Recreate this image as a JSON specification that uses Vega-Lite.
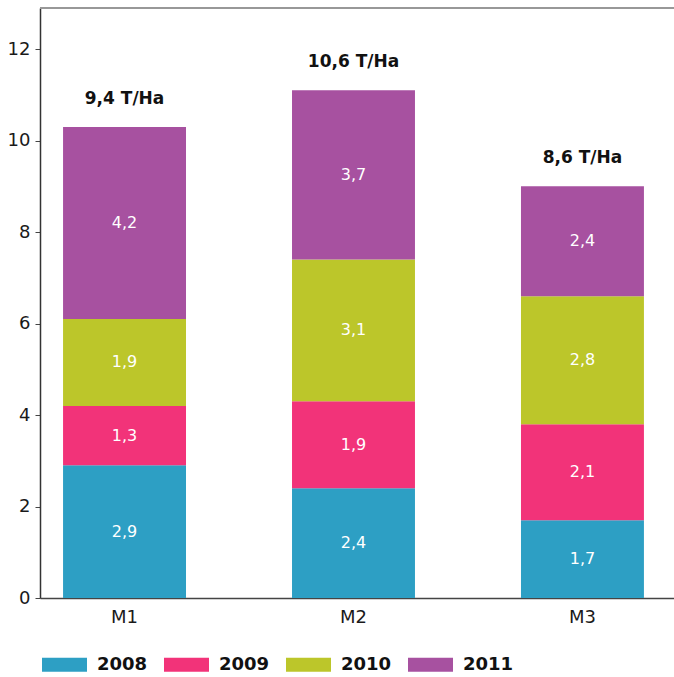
{
  "$schema": "https://vega.github.io/schema/vega-lite/v6.json",
  "width": 634,
  "height": 590,
  "autosize": {"type": "none"},
  "padding": {"left": 40, "top": 8, "right": 0, "bottom": 79},
  "background": "white",
  "config": {
    "view": {"stroke": null},
    "font": "DejaVu Sans",
    "locale": {"number": {"decimal": ",", "thousands": ".", "grouping": [3], "currency": ["", " €"]}}
  },
  "datasets": {
    "mesures": [
      {"parcelle": "M1", "annee": "2008", "valeur": 2.9},
      {"parcelle": "M1", "annee": "2009", "valeur": 1.3},
      {"parcelle": "M1", "annee": "2010", "valeur": 1.9},
      {"parcelle": "M1", "annee": "2011", "valeur": 4.2},
      {"parcelle": "M2", "annee": "2008", "valeur": 2.4},
      {"parcelle": "M2", "annee": "2009", "valeur": 1.9},
      {"parcelle": "M2", "annee": "2010", "valeur": 3.1},
      {"parcelle": "M2", "annee": "2011", "valeur": 3.7},
      {"parcelle": "M3", "annee": "2008", "valeur": 1.7},
      {"parcelle": "M3", "annee": "2009", "valeur": 2.1},
      {"parcelle": "M3", "annee": "2010", "valeur": 2.8},
      {"parcelle": "M3", "annee": "2011", "valeur": 2.4}
    ],
    "rendements": [
      {"parcelle": "M1", "etiquette": "9,4 T/Ha"},
      {"parcelle": "M2", "etiquette": "10,6 T/Ha"},
      {"parcelle": "M3", "etiquette": "8,6 T/Ha"}
    ]
  },
  "data": {"name": "mesures"},
  "layer": [
    {
      "mark": {"type": "bar"},
      "encoding": {
        "x": {
          "field": "parcelle",
          "type": "nominal",
          "scale": {"paddingInner": 0.463, "paddingOuter": 0.116, "align": 0.434},
          "axis": {
            "title": null,
            "labelAngle": 0,
            "labelFontSize": 18,
            "labelColor": "#1a1a1a",
            "labelPadding": 10,
            "ticks": false,
            "domainColor": "#444",
            "domainWidth": 1.5
          }
        },
        "y": {
          "field": "valeur",
          "type": "quantitative",
          "stack": "zero",
          "scale": {"domain": [0, 12.9], "nice": false, "zero": true},
          "axis": {
            "title": null,
            "values": [0, 2, 4, 6, 8, 10, 12],
            "format": "d",
            "grid": false,
            "labelFontSize": 18,
            "labelColor": "#1a1a1a",
            "labelPadding": 5,
            "tickSize": 5,
            "tickColor": "#444",
            "domainColor": "#333",
            "domainWidth": 1.5
          }
        },
        "color": {
          "field": "annee",
          "type": "nominal",
          "scale": {
            "domain": ["2008", "2009", "2010", "2011"],
            "range": ["#2d9fc4", "#f23379", "#bcc62a", "#a751a0"]
          },
          "legend": {
            "title": null,
            "orient": "none",
            "direction": "horizontal",
            "legendX": 2,
            "legendY": 634,
            "symbolType": "M-1,-0.31H1V0.31H-1Z",
            "symbolSize": 2025,
            "symbolStrokeWidth": 0,
            "symbolOpacity": 1,
            "labelFontSize": 18,
            "labelFontWeight": "bold",
            "labelColor": "#111",
            "labelOffset": 10,
            "columnPadding": 16
          }
        },
        "order": {"field": "annee", "sort": "ascending"}
      }
    },
    {
      "mark": {"type": "text", "color": "white", "fontSize": 16, "baseline": "middle"},
      "encoding": {
        "x": {"field": "parcelle", "type": "nominal"},
        "y": {"field": "valeur", "type": "quantitative", "stack": "zero", "bandPosition": 0.5},
        "text": {"field": "valeur", "type": "quantitative", "format": ".1f"},
        "detail": {"field": "annee"},
        "order": {"field": "annee", "sort": "ascending"}
      }
    },
    {
      "transform": [
        {"aggregate": [{"op": "sum", "field": "valeur", "as": "total"}], "groupby": ["parcelle"]},
        {"lookup": "parcelle", "from": {"data": {"name": "rendements"}, "key": "parcelle", "fields": ["etiquette"]}}
      ],
      "mark": {"type": "text", "fontSize": 17, "fontWeight": "bold", "color": "#111", "dy": -28, "baseline": "middle"},
      "encoding": {
        "x": {"field": "parcelle", "type": "nominal"},
        "y": {"field": "total", "type": "quantitative"},
        "text": {"field": "etiquette", "type": "nominal"}
      }
    },
    {
      "mark": {"type": "rule", "color": "#999", "strokeWidth": 1.5},
      "encoding": {"y": {"datum": 12.9, "type": "quantitative"}}
    }
  ]
}
